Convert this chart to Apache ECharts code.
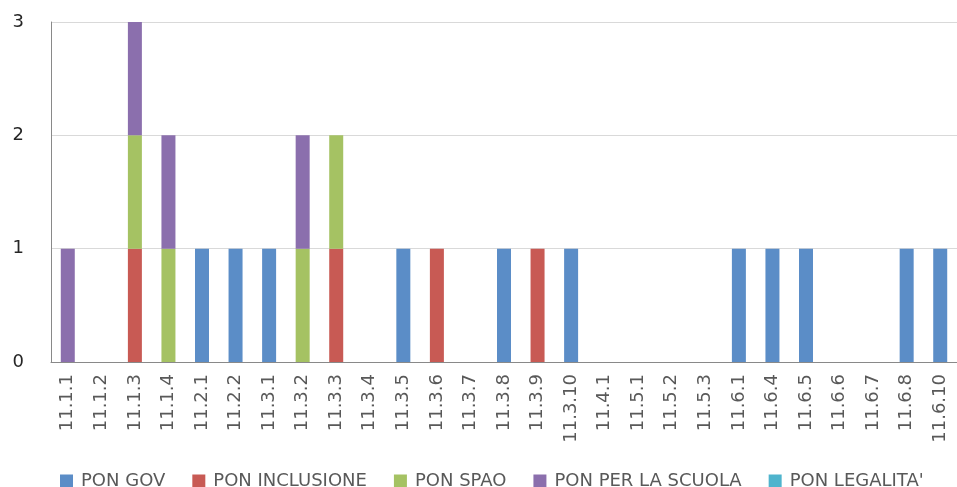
<!DOCTYPE html>
<html lang="it">
<head>
    <meta charset="UTF-8">
    <title>PON</title>
    <style>
        html, body { margin: 0; padding: 0; background: #fff; }
        #chart { width: 957px; height: 487px; }
    </style>
</head>
<body>
<div id="chart"></div>
<script src="https://cdn.jsdelivr.net/npm/echarts@6/dist/echarts.min.js"></script>
<script type="text/javascript">
    // categorie (asse x)
    var categories = ['11.1.1', '11.1.2', '11.1.3', '11.1.4', '11.2.1', '11.2.2', '11.3.1', '11.3.2', '11.3.3',
        '11.3.4', '11.3.5', '11.3.6', '11.3.7', '11.3.8', '11.3.9', '11.3.10', '11.4.1', '11.5.1', '11.5.2',
        '11.5.3', '11.6.1', '11.6.4', '11.6.5', '11.6.6', '11.6.7', '11.6.8', '11.6.10'];

    var seriesNames = ['PON GOV', 'PON INCLUSIONE', 'PON SPAO', 'PON PER LA SCUOLA', "PON LEGALITA'"];

    var ponGov        = [0, 0, 0, 0, 1, 1, 1, 0, 0, 0, 1, 0, 0, 1, 0, 1, 0, 0, 0, 0, 1, 1, 1, 0, 0, 1, 1];
    var ponInclusione = [0, 0, 1, 0, 0, 0, 0, 0, 1, 0, 0, 1, 0, 0, 1, 0, 0, 0, 0, 0, 0, 0, 0, 0, 0, 0, 0];
    var ponSpao       = [0, 0, 1, 1, 0, 0, 0, 1, 1, 0, 0, 0, 0, 0, 0, 0, 0, 0, 0, 0, 0, 0, 0, 0, 0, 0, 0];
    var ponScuola     = [1, 0, 1, 1, 0, 0, 0, 1, 0, 0, 0, 0, 0, 0, 0, 0, 0, 0, 0, 0, 0, 0, 0, 0, 0, 0, 0];
    var ponLegalita   = [0, 0, 0, 0, 0, 0, 0, 0, 0, 0, 0, 0, 0, 0, 0, 0, 0, 0, 0, 0, 0, 0, 0, 0, 0, 0, 0];

    var yTicks = [0, 1, 2, 3];

    var colors = ['#5b8dc7', '#c85a54', '#a5c263', '#8b6fad', '#4fb4cd'];
    var allData = [ponGov, ponInclusione, ponSpao, ponScuola, ponLegalita];

    var chart = echarts.init(document.getElementById('chart'));

    var series = [];
    for (var i = 0; i < seriesNames.length; i++) {
        series.push({
            name: seriesNames[i],
            type: 'bar',
            stack: 'tot',
            barWidth: 14,
            itemStyle: { color: colors[i] },
            data: allData[i]
        });
    }

    var option = {
        animation: false,
        textStyle: { fontFamily: 'DejaVu Sans' },
        color: colors,
        grid: {
            left: 51,
            top: 22,
            bottom: 125,
            width: 911
        },
        legend: {
            data: seriesNames,
            left: 55,
            top: 467,
            itemWidth: 13,
            itemHeight: 13,
            itemGap: 27,
            icon: 'rect',
            textStyle: { color: '#595959', fontSize: 18, fontFamily: 'DejaVu Sans', padding: [0, 0, 0, 3] }
        },
        xAxis: {
            type: 'category',
            data: categories,
            axisLine: { lineStyle: { color: '#898989', width: 1 } },
            axisTick: { show: false },
            axisLabel: {
                interval: 0,
                rotate: 90,
                margin: 12,
                color: '#595959',
                fontSize: 18,
                fontFamily: 'DejaVu Sans'
            }
        },
        yAxis: {
            type: 'value',
            min: yTicks[0],
            max: yTicks[yTicks.length - 1],
            interval: 1,
            axisLine: { show: true, lineStyle: { color: '#898989', width: 1 } },
            axisTick: { show: false },
            splitLine: { lineStyle: { color: '#d9d9d9', width: 1 } },
            axisLabel: {
                margin: 27,
                color: '#262626',
                fontSize: 18,
                fontFamily: 'DejaVu Sans'
            }
        },
        series: series
    };

    chart.setOption(option, true);
</script>
</body>
</html>
